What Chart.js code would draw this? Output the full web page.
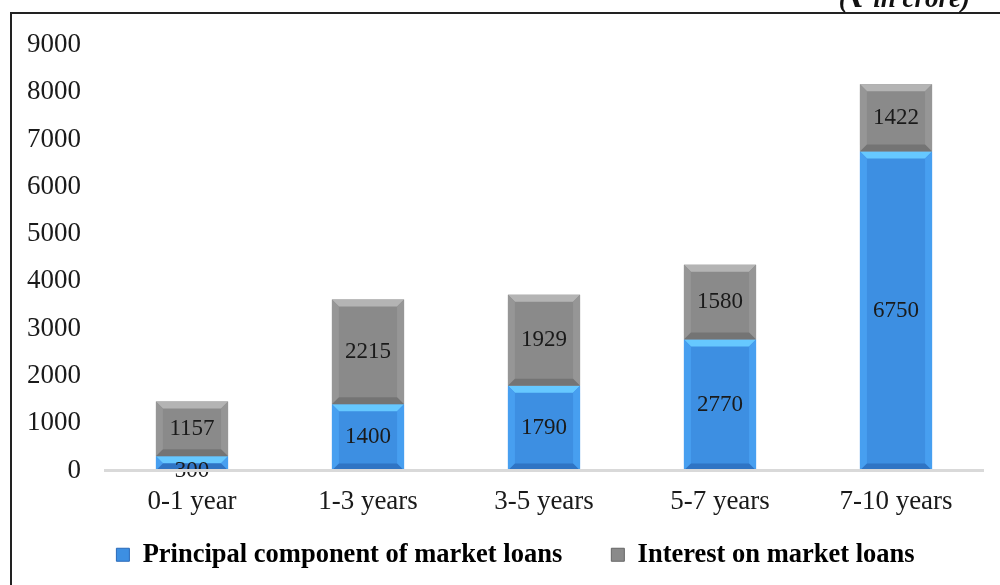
<!DOCTYPE html>
<html>
<head>
<meta charset="utf-8">
<script src="https://cdn.jsdelivr.net/npm/chart.js@4.4.1/dist/chart.umd.min.js"></script>
<style>
html,body{margin:0;padding:0;background:#fff;}
#wrap{width:1000px;height:585px;position:relative;}
</style>
</head>
<body>
<div id="wrap"><canvas id="c" width="1000" height="585"></canvas></div>
<script>
const categories = ["0-1 year", "1-3 years", "3-5 years", "5-7 years", "7-10 years"];
const principal = [300, 1400, 1790, 2770, 6750];
const interest = [1157, 2215, 1929, 1580, 1422];
const seriesNames = ["Principal component of market loans", "Interest on market loans"];
const yMax = 9000;
const yStep = 1000;
const unitNote = "(\u20B9 in crore)";

const SERIF = "'Liberation Serif', 'DejaVu Serif', serif";

const bevelPlugin = {
  id: 'bevel',
  afterLayout(chart) {
    if (chart.legend) { chart.legend.left += 18; chart.legend.right += 18; }
  },
  afterDatasetsDraw(chart) {
    const ctx = chart.ctx;
    chart.data.datasets.forEach((ds, di) => {
      const meta = chart.getDatasetMeta(di);
      meta.data.forEach((el, i) => {
        const w = el.width;
        const L = el.x - w / 2, R = el.x + w / 2;
        const T = Math.min(el.y, el.base), B = Math.max(el.y, el.base);
        const h = B - T;
        const b = Math.min(7, h / 2);
        const light = di === 0 ? '#66c8ff' : '#b4b4b4';
        const side = di === 0 ? '#479ff0' : '#969696';
        const dark = di === 0 ? '#2f74c4' : '#747474';
        ctx.save();
        ctx.fillStyle = light;
        ctx.beginPath();
        ctx.moveTo(L, T); ctx.lineTo(R, T); ctx.lineTo(R - b, T + b); ctx.lineTo(L + b, T + b); ctx.closePath(); ctx.fill();
        ctx.fillStyle = side;
        ctx.beginPath();
        ctx.moveTo(L, T); ctx.lineTo(L + b, T + b); ctx.lineTo(L + b, B - b); ctx.lineTo(L, B); ctx.closePath(); ctx.fill();
        ctx.beginPath();
        ctx.moveTo(R, T); ctx.lineTo(R - b, T + b); ctx.lineTo(R - b, B - b); ctx.lineTo(R, B); ctx.closePath(); ctx.fill();
        ctx.fillStyle = dark;
        ctx.beginPath();
        ctx.moveTo(L, B); ctx.lineTo(R, B); ctx.lineTo(R - b, B - b); ctx.lineTo(L + b, B - b); ctx.closePath(); ctx.fill();
        ctx.fillStyle = '#1a1a1a';
        ctx.font = "23px " + SERIF;
        ctx.textAlign = 'center';
        ctx.textBaseline = 'middle';
        let ly = (T + B) / 2;
        if (h < 20) ly = B;
        ctx.fillText(String(ds.data[i]), el.x, ly);
        ctx.restore();
      });
    });
  }
};

const framePlugin = {
  id: 'frame',
  beforeDraw(chart) {
    const ctx = chart.ctx;
    ctx.save();
    ctx.fillStyle = '#fff';
    ctx.fillRect(0, 0, chart.width, chart.height);
    ctx.strokeStyle = '#222';
    ctx.lineWidth = 2;
    ctx.beginPath();
    ctx.moveTo(11, 600); ctx.lineTo(11, 13); ctx.lineTo(1010, 13);
    ctx.stroke();
    ctx.restore();
  },
  afterDraw(chart) {
    const ctx = chart.ctx;
    ctx.save();
    ctx.fillStyle = '#111';
    ctx.font = "italic bold 27px " + SERIF;
    ctx.textAlign = 'right';
    ctx.textBaseline = 'alphabetic';
    ctx.fillText(unitNote, 970, 7);
    const ca = chart.chartArea;
    const y0 = chart.scales.y.getPixelForValue(0);
    ctx.strokeStyle = '#d9d9d9';
    ctx.lineWidth = 3;
    ctx.beginPath();
    ctx.moveTo(ca.left, y0); ctx.lineTo(ca.right, y0);
    ctx.stroke();
    ctx.restore();
  }
};

new Chart(document.getElementById('c'), {
  type: 'bar',
  data: {
    labels: categories,
    datasets: [
      { label: seriesNames[0], data: principal, backgroundColor: '#3d8fe2', borderWidth: 0, categoryPercentage: 1, barPercentage: 0.41 },
      { label: seriesNames[1], data: interest, backgroundColor: '#8a8a8a', borderWidth: 0, categoryPercentage: 1, barPercentage: 0.41 }
    ]
  },
  options: {
    responsive: false,
    animation: false,
    layout: { padding: { left: 11, right: 16, top: 45, bottom: 7 } },
    plugins: {
      legend: {
        position: 'bottom',
        labels: {
          font: { family: SERIF, size: 26.5, weight: 'bold' },
          color: '#1a1a1a',
          boxWidth: 13, boxHeight: 13,
          padding: 16,
          generateLabels(chart) {
            return chart.data.datasets.map((d, i) => ({
              text: i === 0 ? d.label + '     ' : d.label,
              fillStyle: d.backgroundColor,
              strokeStyle: i === 0 ? '#2a6ab8' : '#666',
              lineWidth: 1,
              datasetIndex: i,
              hidden: false
            }));
          }
        }
      },
      tooltip: { enabled: false }
    },
    scales: {
      x: {
        stacked: true,
        grid: { display: false, drawTicks: false },
        border: { display: false },
        ticks: { font: { family: SERIF, size: 27 }, color: '#1a1a1a', padding: 15 },
        afterFit(s) { s.height = 55; }
      },
      y: {
        stacked: true,
        min: 0, max: yMax,
        grid: { display: false, drawTicks: false },
        border: { display: false },
        ticks: { stepSize: yStep, font: { family: SERIF, size: 27 }, color: '#1a1a1a', padding: 23, callback: v => String(v) },
        afterFit(s) { s.width = 93; }
      }
    }
  },
  plugins: [framePlugin, bevelPlugin]
});
</script>
</body>
</html>
